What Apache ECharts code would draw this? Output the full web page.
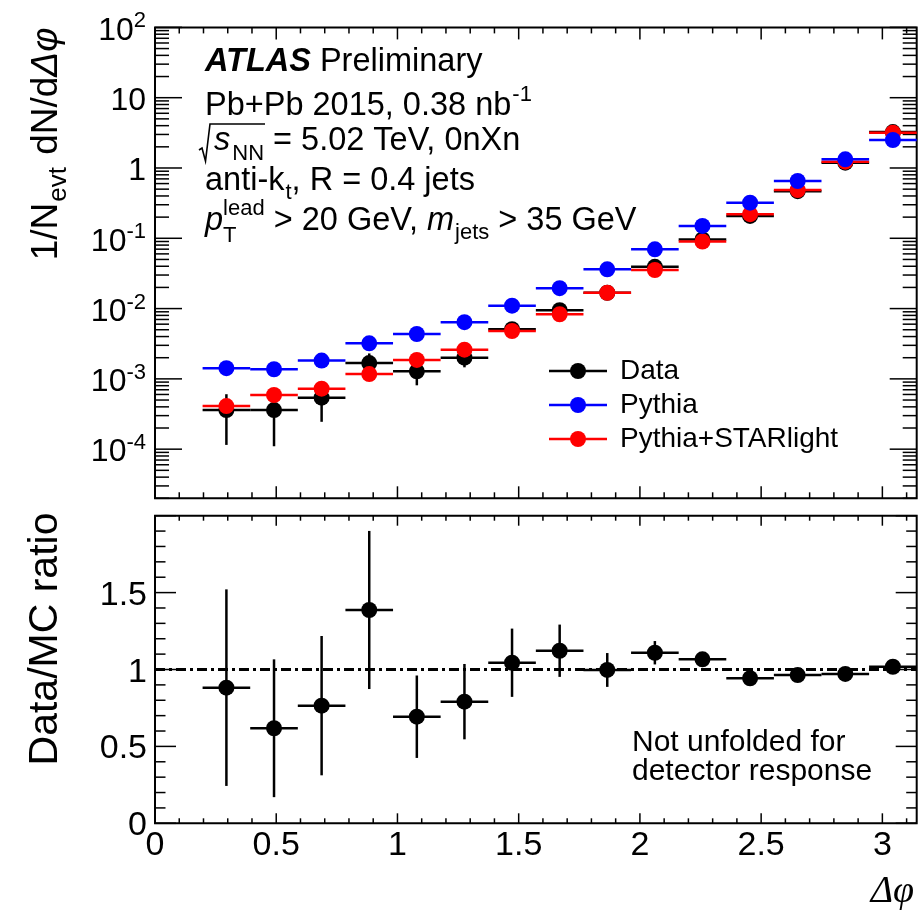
<!DOCTYPE html>
<html><head><meta charset="utf-8">
<script src="https://cdn.jsdelivr.net/npm/echarts@6/dist/echarts.min.js"></script>
<style>html,body{margin:0;padding:0;background:#fff}#c{width:919px;height:911px}</style>
</head><body><div id="c"></div>
<script>
// ---------------- data ----------------
const binCenters = [0.2945,0.4909,0.6872,0.8836,1.0799,1.2763,1.4726,1.6690,1.8653,2.0617,2.2580,2.4544,2.6507,2.8471,3.0434];
const binHalfWidth = 0.0982;
const dataVals      = [3.6e-4,3.6e-4,5.4e-4,1.68e-3,1.28e-3,2.0e-3,5.1e-3,9.5e-3,1.68e-2,3.93e-2,9.6e-2,0.208,0.468,1.19,3.24];
const dataErr       = [2.45e-4,2.5e-4,2.95e-4,6.2e-4,4.7e-4,5.4e-4,1.1e-3,1.5e-3,1.9e-3,2.8e-3,2.5e-3,4e-3,6e-3,1.2e-2,3e-2];
const pythiaVals    = [1.42e-3,1.37e-3,1.82e-3,3.2e-3,4.35e-3,6.4e-3,1.10e-2,1.95e-2,3.62e-2,6.97e-2,0.150,0.321,0.653,1.33,2.50];
const starlightVals = [4.1e-4,5.9e-4,7.26e-4,1.17e-3,1.86e-3,2.6e-3,4.8e-3,8.3e-3,1.68e-2,3.54e-2,0.090,0.22,0.486,1.23,3.18];
const ratioVals     = [0.882,0.618,0.765,1.387,0.693,0.791,1.044,1.122,0.997,1.109,1.066,0.943,0.964,0.971,1.018];
const ratioErr      = [0.639,0.448,0.453,0.514,0.268,0.245,0.222,0.170,0.110,0.076,0.03,0.02,0.02,0.02,0.02];

const xTickVals   = [0,0.5,1,1.5,2,2.5,3];
const xTickLabels = ['0','0.5','1','1.5','2','2.5','3'];
const ratioTickVals   = [0,0.5,1,1.5];
const ratioTickLabels = ['0','0.5','1','1.5'];
const logTickVals  = [100,10,1,0.1,0.01,0.001,0.0001];
const logTickBase  = ['10','10','1','10','10','10','10'];
const logTickExp   = ['2','','','-1','-2','-3','-4'];

const topYMin = 2e-5, topYMax = 100;
const ratioYMin = 0, ratioYMax = 2;

// ---------------- helpers ----------------
const SANS = '"Liberation Sans", Arial, Helvetica, sans-serif';
const SERIF = '"Liberation Serif", "Times New Roman", serif';
const mctx = document.createElement('canvas').getContext('2d');
function fontStr(s){ return (s.italic?'italic ':'') + (s.bold?'bold ':'') + s.size + 'px ' + (s.family||SANS); }
function tw(text, s){ mctx.font = fontStr(s); return mctx.measureText(text).width; }
function txt(text, x, base, s, align){
  return {type:'text', x:x, y: base - 0.3465*s.size, silent:true,
    style:{text:text, fill:s.color||'#000', font:fontStr(s), fontSize:s.size, fontFamily:s.family||SANS,
      fontStyle:s.italic?'italic':'normal', fontWeight:s.bold?'bold':'normal',
      align:align||'left', textAlign:align||'left', verticalAlign:'middle', textVerticalAlign:'middle'}};
}
function runLine(x, base, segs){
  const out=[]; let cx=x;
  for (const s of segs){
    if (s.stack){
      out.push(txt(s.sup.text, cx, base + s.sup.dy, s.sup));
      out.push(txt(s.sub.text, cx, base + s.sub.dy, s.sub));
      cx += Math.max(tw(s.sup.text, s.sup), tw(s.sub.text, s.sub));
      continue;
    }
    cx += (s.dx||0);
    out.push(txt(s.text, cx, base + (s.dy||0), s));
    cx += tw(s.text, s);
  }
  return {els:out, end:cx};
}
function ln(x1,y1,x2,y2,w,c){ return {type:'line', silent:true, shape:{x1:x1,y1:y1,x2:x2,y2:y2}, style:{stroke:c||'#000', lineWidth:w||1.5}}; }

// ---------------- decorations (ticks + labels) ----------------
function decoTop(params, api){
  const ch=[];
  const yTop = api.coord([0, topYMax])[1], yBot = api.coord([0, topYMin])[1];
  const xL = api.coord([0, 1])[0], xR = api.coord([Math.PI, 1])[0];
  for (let k=0;k<=31;k++){
    const v=k/10, major=(k%5===0), px=api.coord([v,1])[0], L=major?12:6;
    ch.push(ln(px,yBot,px,yBot-L)); ch.push(ln(px,yTop,px,yTop+L));
  }
  for (let e=-5;e<=1;e++) for (let m=1;m<=9;m++){
    const v=m*Math.pow(10,e);
    if (v < topYMin*0.999 || v > topYMax*1.001) continue;
    const py=api.coord([0,v])[1], L=(m===1)?27:14;
    ch.push(ln(xL,py,xL+L,py)); ch.push(ln(xR,py,xR-L,py));
  }
  const py100 = api.coord([0,topYMax])[1];
  ch.push(ln(xL,py100,xL+27,py100)); ch.push(ln(xR,py100,xR-27,py100));
  const main={size:32}, sup={size:22};
  logTickVals.forEach((v,i)=>{
    const py=api.coord([0,v])[1], right=xL-9, base=py+14.5;
    let w=0;
    if (logTickExp[i]){ ch.push(txt(logTickExp[i], right, base-13, sup, 'right')); w=tw(logTickExp[i], sup); }
    ch.push(txt(logTickBase[i], right-w, base, main, 'right'));
  });
  return {type:'group', children:ch};
}
function decoBottom(params, api){
  const ch=[];
  const yTop = api.coord([0, ratioYMax])[1], yBot = api.coord([0, ratioYMin])[1];
  const xL = api.coord([0, 1])[0], xR = api.coord([Math.PI, 1])[0];
  for (let k=0;k<=31;k++){
    const v=k/10, major=(k%5===0), px=api.coord([v,1])[0], L=major?10:5;
    ch.push(ln(px,yBot,px,yBot-L)); ch.push(ln(px,yTop,px,yTop+L));
  }
  for (let k=0;k<=20;k++){
    const v=k/10, major=(k%5===0), py=api.coord([0,v])[1], L=major?21:10.5;
    ch.push(ln(xL,py,xL+L,py)); ch.push(ln(xR,py,xR-L,py));
  }
  const lab={size:34};
  ratioTickVals.forEach((v,i)=>{
    const py=api.coord([0,v])[1];
    ch.push(txt(ratioTickLabels[i], xL-8, py+14.5, lab, 'right'));
  });
  xTickVals.forEach((v,i)=>{
    const px=api.coord([v,0])[0];
    ch.push(txt(xTickLabels[i], px, yBot+34, lab, 'center'));
  });
  return {type:'group', children:ch};
}
function errRender(color, lw){
  return function(params, api){
    const x=api.value(0), y=api.value(1), lo=api.value(2), hi=api.value(3);
    const pL=api.coord([x-binHalfWidth,y]), pR=api.coord([x+binHalfWidth,y]);
    const ch=[ln(pL[0],pL[1],pR[0],pR[1],lw,color)];
    if (hi>lo){ const a=api.coord([x,lo]), b=api.coord([x,hi]); ch.push(ln(a[0],a[1],b[0],b[1],lw,color)); }
    return {type:'group', children:ch};
  };
}

// ---------------- build series data ----------------
const dataErrData  = binCenters.map((x,i)=>[x, dataVals[i], dataVals[i]-dataErr[i], dataVals[i]+dataErr[i]]);
const pyErrData    = binCenters.map((x,i)=>[x, pythiaVals[i], pythiaVals[i], pythiaVals[i]]);
const slErrData    = binCenters.map((x,i)=>[x, starlightVals[i], starlightVals[i], starlightVals[i]]);
const ratioErrData = binCenters.map((x,i)=>[x, ratioVals[i], ratioVals[i]-ratioErr[i], ratioVals[i]+ratioErr[i]]);

const BLACK='#000000', BLUE='#0000ff', RED='#ff0000';
const MS=16, LW=2.5;

function errSeries(name, data, color, xi, yi, z){
  return {type:'custom', name:name, xAxisIndex:xi, yAxisIndex:yi, z:z, silent:true,
    dimensions:['x','y','lo','hi'], encode:{x:0,y:1}, renderItem:errRender(color, LW), data:data};
}
function markerSeries(name, xs, ys, color, xi, yi, z){
  return {type:'scatter', name:name, xAxisIndex:xi, yAxisIndex:yi, z:z, silent:true,
    symbol:'circle', symbolSize:MS, itemStyle:{color:color, opacity:1},
    data: xs.map((x,i)=>[x, ys[i]])};
}

// ---------------- annotation graphics ----------------
const G=[];
const FS=32.5, SS=22;
G.push(...runLine(205, 73, [{text:'ATLAS', size:FS, bold:true, italic:true},{text:' Preliminary', size:FS}]).els);
G.push(...runLine(205, 117, [{text:'Pb+Pb 2015, 0.38 nb', size:FS},{text:'-1', size:SS, dy:-14, dx:1}]).els);
(function(){
  const x0=205, base=152;
  const r = runLine(x0+9, base, [{text:'s', size:FS, italic:true},{text:'NN', size:SS, dy:10, dx:2}]);
  G.push({type:'polyline', silent:true, shape:{points:[[x0-6,base-2],[x0-3,base-4],[x0+0.5,base+9],[x0+5,base-28],[r.end+1,base-28]]}, style:{stroke:'#000', lineWidth:1.6, fill:null}});
  G.push(...r.els);
  G.push(...runLine(r.end, base, [{text:' = 5.02 TeV, 0nXn', size:FS}]).els);
})();
G.push(...runLine(205, 192, [{text:'anti-k', size:FS},{text:'t', size:SS, dy:9, dx:1},{text:', R = 0.4 jets', size:FS}]).els);
G.push(...runLine(205, 232, [{text:'p', size:FS, italic:true},
  {stack:true, sup:{text:'lead', size:SS, dy:-15}, sub:{text:'T', size:SS, dy:12}},
  {text:' > 20 GeV, ', size:FS},{text:'m', size:FS, italic:true},{text:'jets', size:SS, dy:9, dx:1},{text:' > 35 GeV', size:FS}]).els);

// legend
const legendItems=[{name:'Data', color:BLACK, y:371},{name:'Pythia', color:BLUE, y:405},{name:'Pythia+STARlight', color:RED, y:439}];
legendItems.forEach(it=>{
  G.push(ln(549, it.y, 607, it.y, LW, it.color));
  G.push({type:'circle', silent:true, shape:{cx:578, cy:it.y, r:MS/2}, style:{fill:it.color}});
  G.push(txt(it.name, 620, it.y+10, {size:28}));
});
// note
G.push(txt('Not unfolded for', 632, 753, {size:30}));
G.push(txt('detector response', 632, 782, {size:30}));

// axis titles
(function(){
  const segs=[{text:'1/',size:37},{text:'N',size:37},{text:'evt',size:26,dy:8,dx:1},{text:' dN/d',size:37,dx:2},{text:'Δφ',size:37,italic:true}];
  let w=0; segs.forEach(g=>{w+=tw(g.text,g)+(g.dx||0);});
  const r=runLine(-w/2, 13.5, segs);
  G.push({type:'group', x:46, y:144, rotation:Math.PI/2, children:r.els});
})();
(function(){
  const s={size:41};
  const w=tw('Data/MC ratio', s);
  G.push({type:'group', x:45, y:639, rotation:Math.PI/2, children:[txt('Data/MC ratio', -w/2, 14.5, s)]});
})();
G.push(txt('Δφ', 914, 905, {size:38, italic:true, family:SERIF}, 'right'));

// ---------------- chart ----------------
const chart = echarts.init(document.getElementById('c'), null, {renderer:'canvas'});
const gridStyle={show:true, borderColor:'#000', borderWidth:2, backgroundColor:'transparent'};
chart.setOption({
  animation:false,
  backgroundColor:'#ffffff',
  grid:[Object.assign({left:155, top:27.4, width:761.7, height:470.9}, gridStyle),
        Object.assign({left:155, top:515.7, width:761.7, height:307.6}, gridStyle)],
  xAxis:[{type:'value', gridIndex:0, min:0, max:Math.PI, show:false},
         {type:'value', gridIndex:1, min:0, max:Math.PI, show:false}],
  yAxis:[{type:'log', logBase:10, gridIndex:0, min:topYMin, max:topYMax, show:false},
         {type:'value', gridIndex:1, min:ratioYMin, max:ratioYMax, show:false}],
  series:[
    {type:'custom', name:'axesTop', xAxisIndex:0, yAxisIndex:0, z:1, silent:true, renderItem:decoTop, data:[[1,1]]},
    {type:'custom', name:'axesBottom', xAxisIndex:1, yAxisIndex:1, z:1, silent:true, renderItem:decoBottom, data:[[1,1]]},
    errSeries('Data err', dataErrData, BLACK, 0, 0, 2),
    markerSeries('Data', binCenters, dataVals, BLACK, 0, 0, 3),
    errSeries('Pythia+STARlight err', slErrData, RED, 0, 0, 4),
    markerSeries('Pythia+STARlight', binCenters, starlightVals, RED, 0, 0, 5),
    errSeries('Pythia err', pyErrData, BLUE, 0, 0, 6),
    markerSeries('Pythia', binCenters, pythiaVals, BLUE, 0, 0, 7),
    Object.assign(errSeries('Ratio err', ratioErrData, BLACK, 1, 1, 3), {
      markLine:{silent:true, symbol:'none', label:{show:false}, animation:false,
        lineStyle:{color:'#000', width:3, type:[10,4,3,4]}, data:[{yAxis:1}]}}),
    markerSeries('Ratio', binCenters, ratioVals, BLACK, 1, 1, 4)
  ],
  graphic:{elements:G}
});
</script></body></html>
